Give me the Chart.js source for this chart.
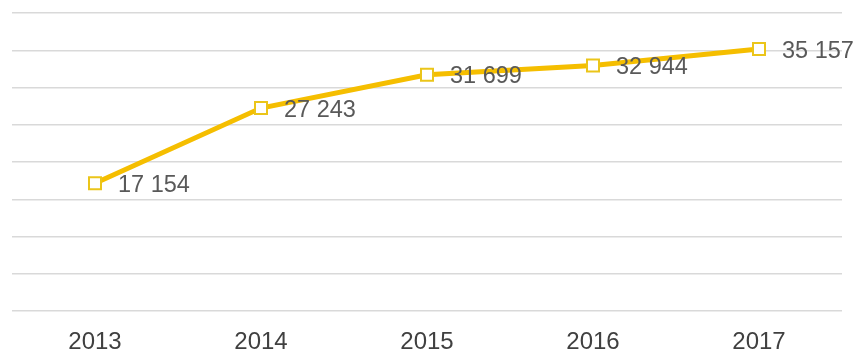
<!DOCTYPE html>
<html>
<head>
<meta charset="utf-8">
<script src="https://cdn.jsdelivr.net/npm/chart.js@4"></script>
<style>
  html, body { margin: 0; padding: 0; background: #fff; }
  #wrap { width: 855px; height: 353px; }
</style>
</head>
<body>
<div id="wrap"><canvas id="myChart"></canvas></div>
<script>
var years = ["2013", "2014", "2015", "2016", "2017"];
var values = [17154, 27243, 31699, 32944, 35157];
var yMin = 0;
var yMax = 40000;
var yStep = 5000;

var lineColor = "#F5BE00";

function fmt(v) {
  return String(v).replace(/\B(?=(\d{3})+(?!\d))/g, " ");
}

// value labels to the right of each point
var valueLabels = {
  id: "valueLabels",
  afterDatasetsDraw: function(chart) {
    var ctx = chart.ctx;
    var meta = chart.getDatasetMeta(0);
    ctx.save();
    ctx.font = "23.5px 'Liberation Sans', Arial, sans-serif";
    ctx.fillStyle = "#595959";
    ctx.textBaseline = "middle";
    ctx.textAlign = "left";
    meta.data.forEach(function(pt, i) {
      ctx.fillText(fmt(values[i]), pt.x + 23, pt.y + 2);
    });
    ctx.restore();
  }
};

new Chart("myChart", {
  type: "line",
  data: {
    labels: years,
    datasets: [{
      data: values,
      borderColor: lineColor,
      borderWidth: 5,
      pointStyle: "rect",
      pointRadius: 8.5,
      pointBorderWidth: 2,
      pointBorderColor: "#EBC51A",
      pointBackgroundColor: "#ffffff",
      tension: 0
    }]
  },
  options: {
    responsive: true,
    maintainAspectRatio: false,
    animation: false,
    layout: { padding: { left: 12, right: 13, top: 13, bottom: 0 } },
    plugins: {
      legend: { display: false },
      tooltip: { enabled: false }
    },
    scales: {
      x: {
        offset: true,
        grid: { display: false, drawTicks: false },
        border: { display: false },
        ticks: {
          padding: 19,
          color: "#404040",
          font: { family: "'Liberation Sans', Arial, sans-serif", size: 24, lineHeight: 1 }
        },
        afterFit: function(scale) { scale.height = 42; }
      },
      y: {
        min: yMin,
        max: yMax,
        grid: { color: "#d9d9d9", lineWidth: 1.5, drawTicks: false },
        border: { display: false },
        ticks: { display: false, stepSize: yStep }
      }
    }
  },
  plugins: [valueLabels]
});
</script>
</body>
</html>
